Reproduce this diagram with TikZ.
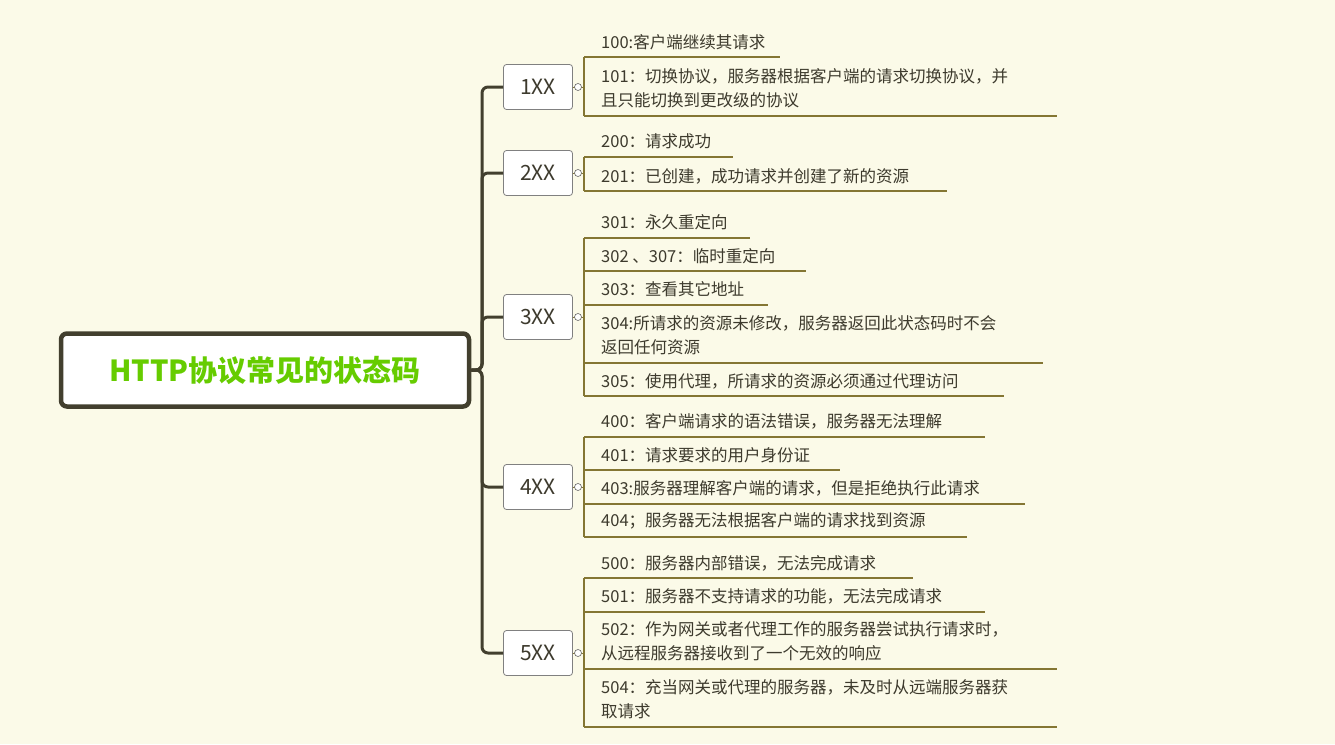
\documentclass[tikz,border=0pt]{standalone}
\usepackage{fontspec}
\setmainfont{Noto Sans CJK SC}
\begin{document}
\begin{tikzpicture}[x=1pt,y=-1pt,
  line/.style={draw=black!35!olive!70!brown,line width=1.1pt},
  trunk/.style={draw=black!70!olive,line width=3pt,rounded corners=6pt},
  cat/.style={draw=black!50,fill=white,rounded corners=3pt,minimum width=69pt,minimum height=45pt,font=\fontsize{21}{24}\selectfont,text=black!75!olive,line width=0.8pt},
  item/.style={anchor=west,font=\fontsize{16.5}{24}\selectfont,text=black!75!olive,align=left,inner sep=0pt},
  knob/.style={circle,draw=black!60,fill=white,inner sep=0pt,minimum size=7pt,line width=0.6pt}]
\fill[yellow!10!white!90!olive!40] (0,0) rectangle (1335,744);
\fill[fill=white!96!yellow] (0,0) rectangle (0,0);
\node[draw=black!70!olive,line width=4.5pt,rounded corners=6pt,fill=white,minimum width=408pt,minimum height=73pt,font=\fontsize{29}{32}\selectfont\bfseries,text=green!50!yellow!80!black] (root) at (265,370) {HTTP协议常见的状态码};
\node[cat] (c1) at (538,87) {1XX};
\node[cat] (c2) at (538,173) {2XX};
\node[cat] (c3) at (538,317) {3XX};
\node[cat] (c4) at (538,487) {4XX};
\node[cat] (c5) at (538,653) {5XX};
\coordinate (t0) at (482,370);
\foreach \c in {c1,c2,c3,c4,c5} {
  \draw[trunk] (root.east) -- (t0) |- (\c.west);
}
% items
\def\I#1#2#3#4#5{%
  \node[item] (#1) at (601,#2) {#5};
  \coordinate (#1a) at (584,#3);
  \coordinate (#1b) at (#4,#3);
  \draw[line] (#1a) -- (#1b);}
\I{a}{42}{57}{780}{100:客户端继续其请求}
\I{b}{88}{116}{1057}{101：切换协议，服务器根据客户端的请求切换协议，并\\且只能切换到更改级的协议}
\I{d}{141}{157}{733}{200：请求成功}
\I{e}{176}{191}{947}{201：已创建，成功请求并创建了新的资源}
\I{f}{222}{238}{750}{301：永久重定向}
\I{g}{256}{271}{806}{302 、307：临时重定向}
\I{h}{289}{305}{768}{303：查看其它地址}
\I{i}{335}{363}{1043}{304:所请求的资源未修改，服务器返回此状态码时不会\\返回任何资源}
\I{j}{381}{396}{1004}{305：使用代理，所请求的资源必须通过代理访问}
\I{k}{421}{437}{985}{400：客户端请求的语法错误，服务器无法理解}
\I{l}{455}{470}{840}{401：请求要求的用户身份证}
\I{m}{488}{504}{1025}{403:服务器理解客户端的请求，但是拒绝执行此请求}
\I{n}{521}{537}{967}{404；服务器无法根据客户端的请求找到资源}
\I{o}{563}{578}{913}{500：服务器内部错误，无法完成请求}
\I{p}{596}{612}{985}{501：服务器不支持请求的功能，无法完成请求}
\I{q}{641}{669}{1057}{502：作为网关或者代理工作的服务器尝试执行请求时，\\从远程服务器接收到了一个无效的响应}
\I{r}{699}{727}{1057}{504：充当网关或代理的服务器，未及时从远端服务器获\\取请求}
\draw[line] (aa) -- (ba);
\draw[line] (da) -- (ea);
\draw[line] (fa) -- (ja);
\draw[line] (ka) -- (na);
\draw[line] (oa) -- (ra);
\foreach \c/\y in {c1/87,c2/173,c3/317,c4/487,c5/653} {
  \coordinate (k\c) at (584,\y);
  \draw[line,line width=0.6pt] (\c.east) -- (k\c);
  \node[knob] at (578,\y) {};
}
\end{tikzpicture}
\end{document}
